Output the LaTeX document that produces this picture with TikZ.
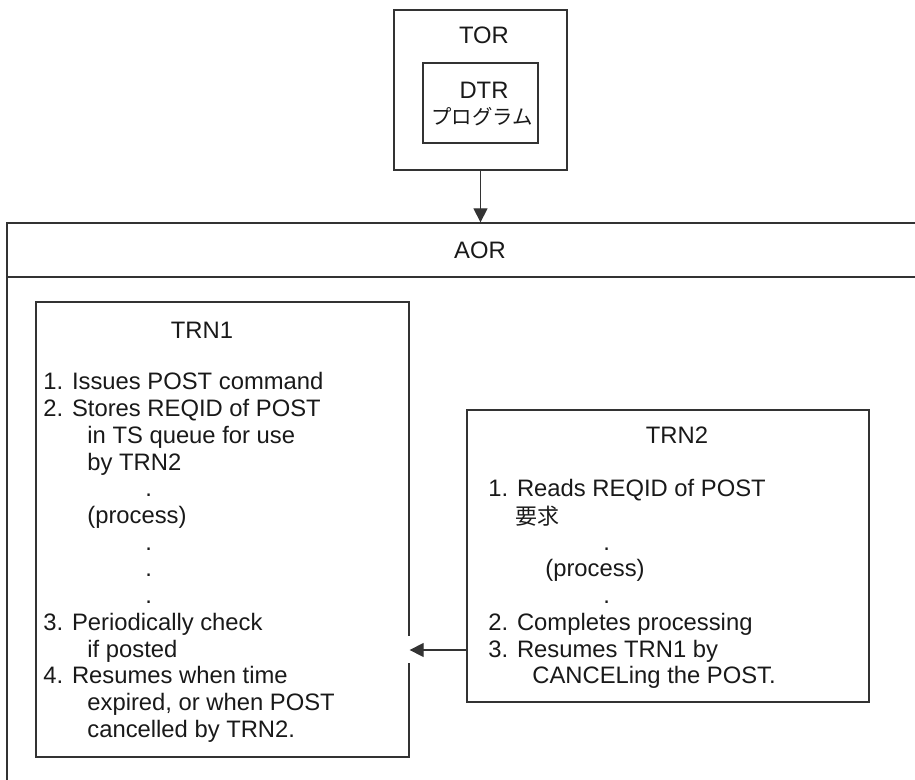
\documentclass[tikz,border=0pt]{standalone}
\usepackage{fontspec}
\setmainfont{Liberation Sans}
\newfontfamily\cjk{Noto Sans CJK JP}
\usetikzlibrary{arrows.meta,positioning}
\tikzset{
  cxbox/.style={
    rectangle, draw=black!80, line width=0.65pt, inner sep=0pt
  },
  cxline/.style={draw=black!80, line width=0.65pt},
  cxtext/.style={
    anchor=base west, inner sep=0pt, text=black!90,
    font=\fontsize{11.9}{13.4}\selectfont
  },
  cxtitle/.style={cxtext, anchor=base},
  cxjp/.style={cxtext, font=\cjk\fontsize{11}{13}\selectfont},
  cxedge/.style={-{Triangle[length=7pt,width=7pt]}, line width=0.65pt, draw=black!80}
}

\begin{document}
\begin{tikzpicture}[x=0.5pt,y=-0.5pt]
\useasboundingbox (0,0) rectangle (915,780);
\clip (0,0) rectangle (915,780);
% regions and transactions, positions in pixels of the page
\node[cxbox, minimum width=86.5pt, minimum height=80pt] (tor) at (480.5,90) {};
\node[cxbox, minimum width=57.5pt, minimum height=40pt] (dtr) at (480.5,103) {};
\node[cxtitle] (torlab) at (484,43.5) {TOR};
\node[cxtitle] (dtrlab) at (484,98.5) {DTR};
\node[cxjp, anchor=base, font=\cjk\fontsize{10.2}{12}\selectfont] (dtrjp) at (482,124.5) {プログラム};

\node[cxbox, minimum width=461.5pt, minimum height=288.5pt] (aor) at (468.5,511.5) {};
\coordinate (div) at (0,277);
\draw[cxline] (aor.west |- div) -- (aor.east |- div);
\node[cxtitle] (aorlab) at (480,258.5) {AOR};
\draw[cxedge] (tor.south) -- (tor.south |- aor.north);

% TRN1
\node[cxbox, minimum width=186.5pt, minimum height=227.5pt] (trn1) at (222.5,529.5) {};
\node[cxtitle] (trn1lab) at (202,338.5) {TRN1};
\node[cxtext] (p1) at (43,390) {1. Issues POST command};
\node[cxtext] (p2) at (43,416.7) {2. Stores REQID of POST};
\node[cxtext] (p3) at (87,443.4) {in TS queue for use};
\node[cxtext] (p4) at (87,470.1) {by TRN2};
\node[cxtext] (p5) at (145,496.8) {.};
\node[cxtext] (p6) at (87,523.5) {(process)};
\node[cxtext] (p7) at (145,550.2) {.};
\node[cxtext] (p8) at (145,576.9) {.};
\node[cxtext] (p9) at (145,603.6) {.};
\node[cxtext] (p10) at (43,630.3) {3. Periodically check};
\node[cxtext] (p11) at (87,657) {if posted};
\node[cxtext] (p12) at (43,683.7) {4. Resumes when time};
\node[cxtext] (p13) at (87,710.4) {expired, or when POST};
\node[cxtext] (p14) at (87,737.1) {cancelled by TRN2.};

% TRN2
\node[cxbox, minimum width=201pt, minimum height=146pt] (trn2) at (668,556) {};
\node[cxtitle] (trn2lab) at (677,443.5) {TRN2};
\node[cxtext] (q1) at (488,496.8) {1. Reads REQID of POST};
\node[cxjp] (q2) at (515,524) {要求};
\node[cxtext] (q3) at (603,550.2) {.};
\node[cxtext] (q4) at (545,576.9) {(process)};
\node[cxtext] (q5) at (603,603.6) {.};
\node[cxtext] (q6) at (488,630.3) {2. Completes processing};
\node[cxtext] (q7) at (488,657) {3. Resumes TRN1 by};
\node[cxtext] (q8) at (532,683.7) {CANCELing the POST.};

% resume by cancel
\coordinate (gaptop) at (0,636);
\coordinate (gapbot) at (0,663);
\coordinate (cy) at (0,650);
\draw[white, line width=2pt] (trn1.east |- gaptop) -- (trn1.east |- gapbot);
\draw[cxedge] (trn2.west |- cy) -- (trn1.east |- cy);
\end{tikzpicture}
\end{document}
